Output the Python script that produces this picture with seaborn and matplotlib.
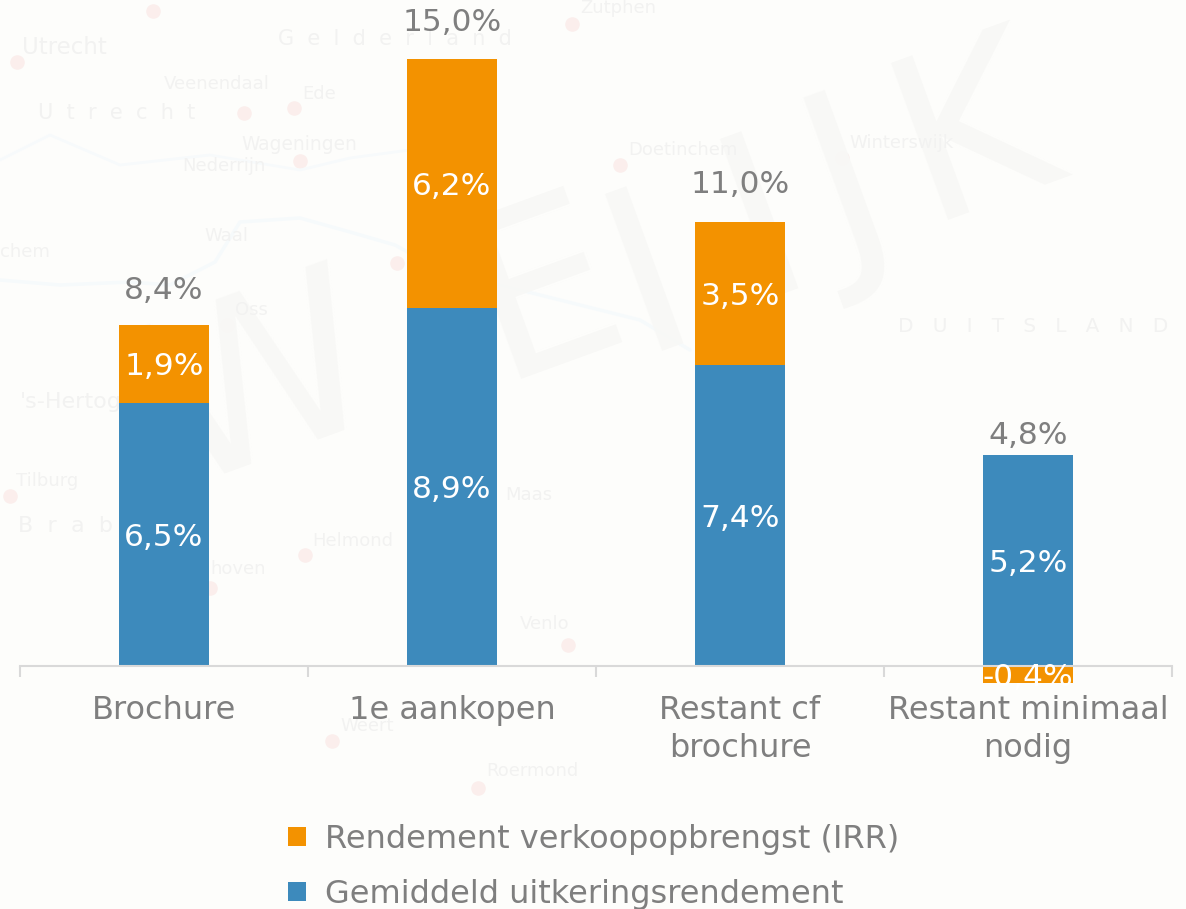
import matplotlib
matplotlib.use("Agg")
import matplotlib.pyplot as plt
import seaborn as sns
import pandas as pd

categories = ["Brochure", "1e aankopen", "Restant cf\nbrochure", "Restant minimaal\nnodig"]
uitkering = [6.5, 8.851, 7.44, 5.21]
verkoop = [1.93, 6.151, 3.53, -0.42]
totals = [8.4, 15.0, 11.0, 4.8]
uitkering_name = "Gemiddeld uitkeringsrendement"
verkoop_name = "Rendement verkoopopbrengst (IRR)"

map_labels = [
    ("Utrecht", 22, 47, 16.5), ("Veenendaal", 164, 84, 13), ("Ede", 302, 94, 13),
    ("Wageningen", 241, 145, 13.4), ("Nederrijn", 182, 166, 13), ("Waal", 204, 236, 13),
    ("Oss", 235, 310, 13), ("chem", 0, 252, 13), ("'s-Hertog", 20, 402, 16),
    ("Tilburg", 16, 481, 13), ("Helmond", 312, 541, 13), ("hoven", 210, 569, 13),
    ("Venlo", 520, 624, 13), ("Roermond", 486, 771, 13), ("Weert", 340, 726, 13),
    ("Doetinchem", 628, 150, 13), ("Winterswijk", 849, 143, 13), ("Zutphen", 580, 8, 13),
    ("Maas", 505, 495, 13), ("G  e  l  d  e  r  l  a  n  d", 278, 39, 15),
    ("U  t  r  e  c  h  t", 38, 113, 15), ("D   U   I   T   S   L   A   N   D", 898, 326, 14.5),
    ("B  r  a  b", 18, 526, 16),
]
watermark = [("W", 262, 390), ("E", 545, 295), ("I", 650, 280), ("I", 765, 225),
             ("J", 850, 195), ("K", 975, 135)]
city_x = [17, 153, 244, 294, 300, 227, 397, 10, 305, 210, 568, 478, 332, 620, 842, 572]
city_y = [62, 11, 113, 108, 161, 325, 263, 496, 555, 588, 645, 788, 741, 165, 158, 24]
river_a_x = [0, 60, 130, 170, 215, 240, 300, 350, 395, 440, 500, 560, 640, 690]
river_a_y = [280, 285, 282, 285, 262, 222, 218, 232, 245, 270, 285, 300, 320, 350]
river_b_x = [0, 50, 120, 210, 300, 350, 410]
river_b_y = [160, 135, 165, 155, 170, 158, 150]

plt.rcParams["font.family"] = "DejaVu Sans"
sns.set_style("white")
W, H = 1186, 909
BG = "#fdfdfb"
FS = 22.5
fig = plt.figure(figsize=(W / 100, H / 100), dpi=100, facecolor=BG)

bg = fig.add_axes([0, 0, 1, 1], zorder=0)
bg.set_xlim(0, W)
bg.set_ylim(H, 0)
bg.axis("off")
bg.plot(river_a_x, river_a_y, color="#f6fafb", lw=2.5)
bg.plot(river_b_x, river_b_y, color="#f7fafb", lw=2)
bg.scatter(city_x, city_y, s=110, color="#fbeeec", linewidths=0)
for ch, x, y in watermark:
    bg.text(x, y, ch, fontsize=165, color="#f8f8f6", va="center", ha="center", rotation=20)
for name, x, y, size in map_labels:
    bg.text(x, y, name, fontsize=size, color="#f2f2f1", va="center", ha="left")

left, right, bottom_px = 20, 1172, 690
ax = fig.add_axes([left / W, 1 - bottom_px / H, (right - left) / W, bottom_px / H], zorder=1)
ax.patch.set_alpha(0)
zero_px = 666
scale = 40.47

df = pd.DataFrame({"cat": categories, "u": uitkering, "v": verkoop})
bases = [u if v > 0 else 0 for u, v in zip(uitkering, verkoop)]

sns.barplot(data=df, x="cat", y="v", bottom=bases, color="#f39200", width=0.3125, ax=ax,
            saturation=1, label=verkoop_name, zorder=2, linewidth=0)
sns.barplot(data=df, x="cat", y="u", color="#3d8abc", width=0.3125, ax=ax,
            saturation=1, label=uitkering_name, zorder=2, linewidth=0)

ax.set_xlim(-0.5, 3.5)
ax.set_ylim((zero_px - bottom_px) / scale, zero_px / scale)
ax.set_xlabel("")
ax.set_ylabel("")
ax.set_yticks([])
for s in ["top", "left", "right"]:
    ax.spines[s].set_visible(False)
ax.spines["bottom"].set_position(("data", 0))
ax.spines["bottom"].set_color("#d9d9d9")
ax.spines["bottom"].set_linewidth(1.5)
ax.spines["bottom"].set_zorder(3)
ax.set_xticks(range(4))
ax.set_xticklabels(categories)
ax.set_xticks([-0.5, 0.5, 1.5, 2.5, 3.5], minor=True)
ax.tick_params(axis="x", which="major", length=0, pad=21, labelsize=23, labelcolor="#7f7f7f")
ax.tick_params(axis="x", which="minor", length=8, width=1.5, color="#d9d9d9", bottom=True, direction="out")
for lab in ax.get_xticklabels():
    lab.set_linespacing(1.3)

nudge = 0.07
total_offset = 0.89


def fmt(val):
    return f"{val:.1f}%".replace(".", ",")


for i, (u, v, t) in enumerate(zip(uitkering, verkoop, totals)):
    ax.text(i, u / 2 - nudge, fmt(u), color="white", fontsize=FS, ha="center", va="center", zorder=5)
    ymid = u + v / 2 if v > 0 else v / 2
    ax.text(i, ymid - nudge, fmt(v), color="white", fontsize=FS, ha="center", va="center", zorder=5)
    ax.text(i, t + total_offset, fmt(t), color="#7f7f7f", fontsize=FS, ha="center", va="center",
            zorder=5, clip_on=False)

if ax.get_legend():
    ax.get_legend().remove()
h, l = ax.get_legend_handles_labels()
fig.legend(h, l, loc="center left", bbox_to_anchor=(288 / W, 1 - 867 / H), frameon=False,
           fontsize=23, labelcolor="#7f7f7f", handlelength=0.56, handleheight=0.56,
           handletextpad=0.6, labelspacing=0.75, borderpad=0, borderaxespad=0)

fig.savefig("out.png", dpi=100, facecolor=BG)
